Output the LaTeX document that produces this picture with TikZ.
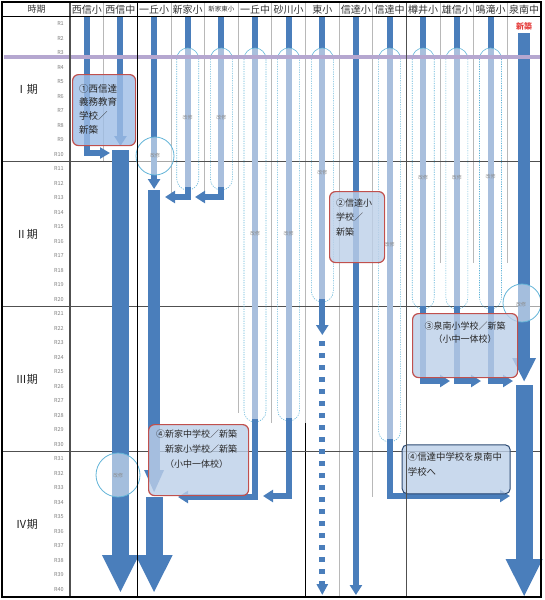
\documentclass[tikz,border=0pt]{standalone}
\usepackage{fontspec}
\setmainfont{Noto Sans CJK JP}
\usetikzlibrary{arrows.meta, positioning}
\definecolor{barblue}{HTML}{4A7EBB}
\definecolor{barlight}{HTML}{A9BFDD}
\definecolor{capcyan}{HTML}{62B4D8}
\definecolor{boxfill}{HTML}{BCCFE8}
\definecolor{boxfilldeep}{HTML}{9EBDE6}
\definecolor{boxred}{HTML}{C0504D}
\definecolor{boxnavy}{HTML}{2C4A72}
\definecolor{gridgray}{HTML}{B8B8B8}
\definecolor{griddark}{HTML}{505050}
\definecolor{textgray}{HTML}{7F7F7F}
\definecolor{phaseline}{HTML}{B5A7D0}
\definecolor{newred}{HTML}{E5403F}

\begin{document}
\begin{tikzpicture}[
    x=1pt, y=-1pt,
    declare function={cx(\i)=70+33.64*(\i+0.5); ry(\r)=16.5+14.5*\r;},
    % ── Grid and labels ──────────────────────────────────────────────────
    gridline/.style={draw=gridgray, line width=0.7pt},
    gridbold/.style={draw=black, line width=1.2pt},
    phaseedge/.style={draw=griddark, line width=0.9pt},
    headtag/.style={font=\fontsize{10}{12}\selectfont, text=black!80, inner sep=0pt},
    rowtag/.style={font=\fontsize{5.5}{6}\selectfont, text=textgray,
        anchor=east, inner sep=0pt},
    phasetag/.style={font=\fontsize{11}{13}\selectfont, text=black!85,
        anchor=east, inner sep=0pt},
    newtag/.style={font=\fontsize{8}{9}\selectfont\bfseries, text=newred, inner sep=0pt},
    % ── Bars and arrows ──────────────────────────────────────────────────
    thinbar/.style={draw=barblue, line width=6pt},
    thinarrow/.style={thinbar, -{Triangle[width=12pt, length=10pt]}},
    midbar/.style={draw=barblue, line width=12pt},
    bigarrow/.style={draw=barblue, line width=17pt,
        -{Triangle[width=34pt, length=38pt]}},
    lightbar/.style={draw=barlight, line width=6pt},
    capedge/.style={draw=capcyan, line width=0.6pt},
    capdash/.style={capedge, dash pattern=on 1.2pt off 1.2pt},
    repairring/.style={draw=capcyan, line width=0.8pt, fill=white, fill opacity=0.5},
    repairtag/.style={font=\fontsize{5}{5.5}\selectfont, text=black!45, inner sep=0pt},
    % ── Plan boxes ───────────────────────────────────────────────────────
    planbox/.style={draw=boxred, line width=1.2pt, rounded corners=6pt,
        fill=boxfill, fill opacity=0.8, anchor=north west, inner sep=0pt},
    plantext/.style={font=\fontsize{9}{14.5}\selectfont, text=black!85,
        align=left, anchor=north west, inner sep=0pt}
]
\useasboundingbox (0,0) rectangle (544,600);

% ═══════════════════════════════════════════════════════════════════════════
% Grid
% ═══════════════════════════════════════════════════════════════════════════
\foreach \k in {1,...,13}
    \draw[gridline] ({70+33.64*\k},2) -- ({70+33.64*\k},16.5);
\foreach \xs/\ye in {103.6/161.5, 170.9/197, 204.6/197, 238.2/413, 271.8/423,
                     305.5/423, 339.1/597, 372.8/497, 440/263, 473.7/263, 507.3/263}
    \draw[gridline] (\xs,16.5) -- (\xs,\ye);
\draw[gridbold, line width=0.9pt] (305.5,423) -- (305.5,597);
\foreach \r in {10,20,30}
    \draw[phaseedge] (2,{ry(\r)}) -- (541,{ry(\r)});

% ═══════════════════════════════════════════════════════════════════════════
% Repair capsules
% ═══════════════════════════════════════════════════════════════════════════
\foreach \i/\yb/\ty in {3/190/118, 4/190/118, 5/422/234, 6/421/234, 7/302/173,
                        9/442/245, 10/309/178, 11/309/178, 12/309/177}{
    \draw[thinbar] ({cx(\i)},17) -- ({cx(\i)},48);
    \draw[lightbar] ({cx(\i)},48) -- ({cx(\i)},{\yb-3});
    \draw[capedge] ({cx(\i)-11},59) arc[start angle=180, end angle=0, radius=11pt];
    \draw[capdash] ({cx(\i)-11},59) -- ({cx(\i)-11},{\yb-11})
        arc[start angle=180, end angle=360, radius=11pt] -- ({cx(\i)+11},59);
    \node[repairtag] (tag\i) at ({cx(\i)},\ty) {改修};
}

% ═══════════════════════════════════════════════════════════════════════════
% School lines
% ═══════════════════════════════════════════════════════════════════════════

% 西信小 / 西信中
\draw[thinbar, -{Triangle[width=11pt, length=10pt]}]
    ({cx(0)},17) -- ({cx(0)},153) -- (110,153);
\draw[thinarrow] ({cx(1)},17) -- ({cx(1)},146);
\draw[bigarrow] ({cx(1)},150) -- ({cx(1)},593);

% 一丘小
\draw[thinarrow] ({cx(2)},17) -- ({cx(2)},189);
\draw[midbar, -{Triangle[width=18pt, length=23pt]}] ({cx(2)},190) -- ({cx(2)},493);
\draw[bigarrow] ({cx(2)},497) -- ({cx(2)},593);

% 新家小 / 新家東小
\draw[thinarrow] ({cx(3)},187) -- ({cx(3)},197) -- (165,197);
\draw[thinarrow] ({cx(4)},187) -- ({cx(4)},197) -- (195,197);

% 一丘中 / 砂川小
\draw[thinarrow] ({cx(5)},419) -- ({cx(5)},497) -- (178,497);
\draw[thinarrow] ({cx(6)},418) -- ({cx(6)},496) -- (263,496);

% 東小
\draw[thinarrow] ({cx(7)},299) -- ({cx(7)},335);
\draw[thinbar, dash pattern=on 5pt off 7pt, -{Triangle[width=11pt, length=11pt]}]
    ({cx(7)},341) -- ({cx(7)},595);

% 信達小 / 信達中
\draw[thinarrow] ({cx(8)},17) -- ({cx(8)},595);
\draw[thinarrow] ({cx(9)},439) -- ({cx(9)},496) -- (510,496);

% 樽井小 / 雄信小 / 鳴滝小
\draw[thinarrow] ({cx(10)},306) -- ({cx(10)},381) -- (450,381);
\draw[thinarrow] ({cx(11)},306) -- ({cx(11)},381) -- (481,381);
\draw[thinarrow] ({cx(12)},306) -- ({cx(12)},381) -- (513,381);

% 泉南中
\node[newtag] (newsennan) at ({cx(13)},26) {新築};
\draw[midbar, -{Triangle[width=22pt, length=24pt]}] ({cx(13)},33) -- ({cx(13)},382);
\draw[bigarrow] ({cx(13)},385) -- ({cx(13)},597);

% Repair rings
\draw[repairring] (155,156) circle[radius=19pt];
\node[repairtag] (ring2) at (155,156) {改修};
\draw[repairring] (118,475) circle[radius=22pt];
\node[repairtag] (ring1) at (118,476) {改修};
\draw[repairring] (522,303) circle[radius=19pt];
\node[repairtag] (ring13) at (521,305) {改修};

% Phase band
\draw[phaseline, line width=3.5pt] (4,57) -- (541,57);

% ═══════════════════════════════════════════════════════════════════════════
% Plan boxes
% ═══════════════════════════════════════════════════════════════════════════
\node[planbox, fill=boxfilldeep, minimum width=63pt, minimum height=71pt]
    (plan1) at (72,74) {};
\node[plantext, font=\fontsize{9.5}{13.7}\selectfont] (plan1txt)
    at ([xshift=7pt, yshift=-10pt]plan1.north west) {①西信達\\義務教育\\学校／\\新築};

\node[planbox, minimum width=55pt, minimum height=71pt] (plan2) at (329,191) {};
\node[plantext] (plan2txt)
    at ([xshift=7pt, yshift=-7.5pt]plan2.north west) {②信達小\\学校／\\新築};

\node[planbox, minimum width=105pt, minimum height=64pt] (plan3) at (412,313) {};
\node[plantext, align=center, anchor=north, font=\fontsize{9}{13}\selectfont]
    (plan3txt) at ([yshift=-8.5pt]plan3.north) {③泉南小学校／新築\\（小中一体校）};

\node[planbox, minimum width=100pt, minimum height=71pt] (plan4a) at (148,424) {};
\node[plantext, font=\fontsize{9}{15}\selectfont] (plan4atxt)
    at ([xshift=8pt, yshift=-6pt]plan4a.north west)
    {④新家中学校／新築\\　新家小学校／新築\\　（小中一体校）};

\node[planbox, draw=boxnavy, line width=1pt, rounded corners=5pt,
      minimum width=108pt, minimum height=49pt] (plan4b) at (401.7,444.3) {};
\node[plantext, font=\fontsize{9.4}{15}\selectfont] (plan4btxt)
    at ([xshift=6pt, yshift=-7.7pt]plan4b.north west) {④信達中学校を泉南中\\学校へ};

% ═══════════════════════════════════════════════════════════════════════════
% Header, rows and frame
% ═══════════════════════════════════════════════════════════════════════════
\node[headtag, font=\fontsize{9}{10}\selectfont] (headtime) at (36.5,9.5) {時期};
\foreach \i/\school in {0/西信小, 1/西信中, 2/一丘小, 3/新家小, 5/一丘中, 6/砂川小,
                        7/東小, 8/信達小, 9/信達中, 10/樽井小, 11/雄信小,
                        12/鳴滝小, 13/泉南中}
    \node[headtag] (head\i) at ({cx(\i)},9.5) {\school};
\node[headtag, font=\fontsize{6.5}{7}\selectfont] (head4) at ({cx(4)},9.5) {新家東小};

\foreach \r in {1,...,40}
    \node[rowtag] (row\r) at (64,{ry(\r)-7.25}) {R\r};

\node[phasetag] (phase1) at (38,{ry(5)}) {Ⅰ期};
\node[phasetag] (phase2) at (38,{ry(15)}) {Ⅱ期};
\node[phasetag] (phase3) at (38,{ry(25)}) {Ⅲ期};
\node[phasetag] (phase4) at (38,{ry(35)}) {Ⅳ期};

\draw[gridbold, draw=griddark] (70,2) -- (70,597);
\draw[gridbold] (137.3,2) -- (137.3,597);
\draw[gridbold, draw=griddark, line width=1pt] (406.4,2) -- (406.4,597);
\draw[gridbold] (2,16.5) -- (541,16.5);
\draw[gridbold] (2,2) rectangle (541,597);

\end{tikzpicture}
\end{document}
